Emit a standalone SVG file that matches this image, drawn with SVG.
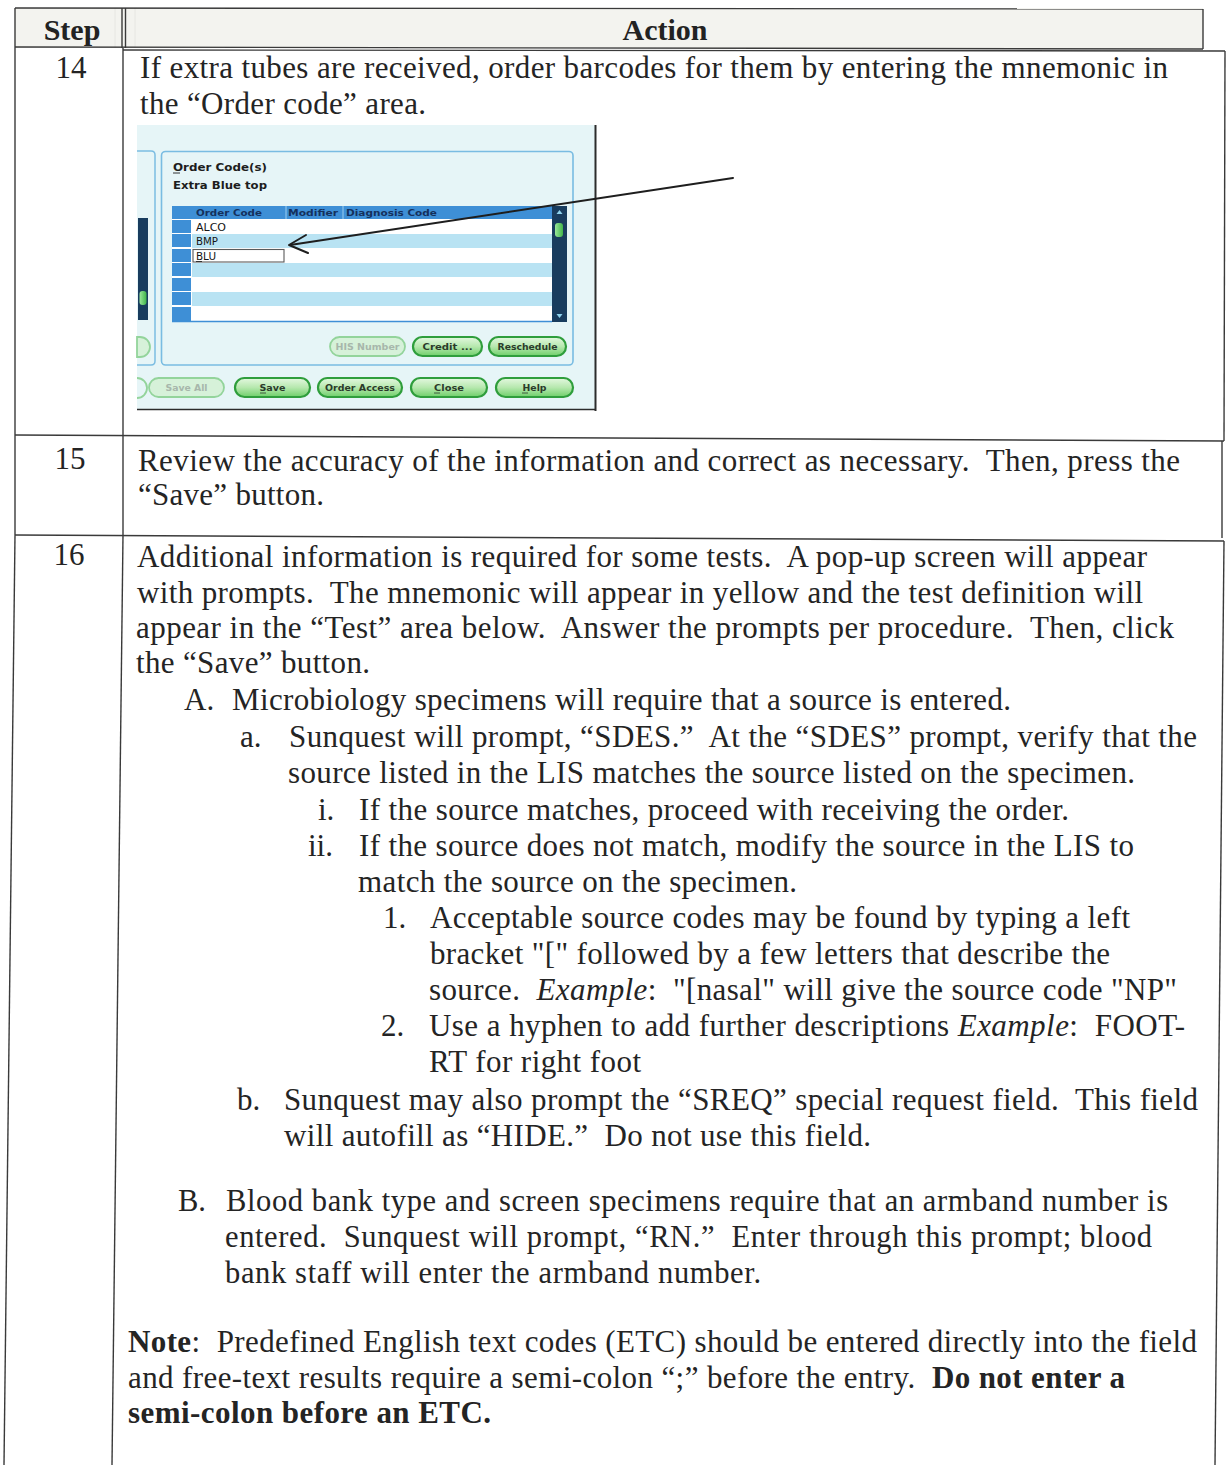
<svg xmlns="http://www.w3.org/2000/svg" width="1227" height="1465" viewBox="0 0 1227 1465">
  <style>
    text { white-space: pre; }
    .rule { stroke: #3a3a3a; stroke-width: 1.4; fill: none; }
    .ghost { stroke: #e6e6e2; stroke-width: 1; }
    .body { font-family: "Liberation Serif", "Times New Roman", serif; font-size: 31px; fill: #242424; }
    .bsmall { font-family: "Liberation Serif", "Times New Roman", serif; font-size: 30.5px; fill: #242424; }
    .head { font-family: "Liberation Serif", "Times New Roman", serif; font-size: 30px; font-weight: bold; fill: #222; }
    .b { font-weight: bold; }
    .i { font-style: italic; }
    .ui { font-family: "DejaVu Sans", Verdana, sans-serif; }
    .ttl { font-size: 11px; font-weight: bold; fill: #1d1d1d; }
    .colh { font-size: 9.5px; font-weight: bold; fill: #14305c; }
    .cell { font-size: 10px; fill: #151515; }
    .btn { fill: url(#btnFill); stroke: #2f9e3c; stroke-width: 2.2; }
    .btnoff { fill: #d6f1d9; stroke: #93d49b; stroke-width: 1.8; }
    .btxt { font-size: 9.5px; font-weight: bold; fill: #2b3b2b; text-anchor: middle; }
    .btxtoff { font-size: 9.5px; font-weight: bold; fill: #a7b7ab; text-anchor: middle; }
    .sel { fill: #3e8fd6; }
    .lite { fill: #b9e3f3; }
  </style>
  <defs>
    <linearGradient id="btnFill" x1="0" y1="0" x2="0" y2="1">
      <stop offset="0" stop-color="#e4f8e0"/>
      <stop offset="0.5" stop-color="#b6e8ae"/>
      <stop offset="1" stop-color="#6fcf6a"/>
    </linearGradient>
    <linearGradient id="thumb" x1="0" y1="0" x2="1" y2="0">
      <stop offset="0" stop-color="#9be89a"/>
      <stop offset="1" stop-color="#3fb44a"/>
    </linearGradient>
  </defs>

  <rect x="0" y="0" width="1227" height="1465" fill="#ffffff"/>

  <!-- header row -->
  <g id="header">
    <rect x="15" y="8" width="1188" height="40" fill="#f3f3ef"/>
    <line class="ghost" x1="115" y1="8" x2="115" y2="48"/>
    <line class="ghost" x1="135" y1="8" x2="135" y2="48"/>
    <text class="head" x="72" y="40" text-anchor="middle">Step</text>
    <text class="head" x="665" y="40" text-anchor="middle">Action</text>
  </g>

  <!-- table rules (the scan is slightly skewed, so rules carry their own slope) -->
  <g id="table-lines" class="rule">
    <!-- header box -->
    <line x1="15" y1="8" x2="1203" y2="9"/>
    <line x1="1203" y1="9" x2="1203" y2="49"/>
    <line x1="15" y1="47" x2="1203" y2="49"/>
    <line x1="122" y1="8" x2="122" y2="48"/>
    <line x1="125.5" y1="8" x2="125.5" y2="48"/>
    <!-- rows 14 and 15 -->
    <line x1="123" y1="50" x2="1225" y2="51"/>
    <line x1="1225" y1="51" x2="1224" y2="441"/>
    <line x1="15" y1="8" x2="15" y2="535"/>
    <line x1="123" y1="48" x2="123" y2="535"/>
    <line x1="15" y1="435" x2="1224" y2="441"/>
    <line x1="1222" y1="441" x2="1222" y2="538"/>
    <line x1="15" y1="535" x2="1224" y2="541"/>
    <!-- row 16 -->
    <line x1="15" y1="535" x2="4" y2="1465"/>
    <line x1="123" y1="535" x2="112" y2="1465"/>
    <line x1="1224" y1="541" x2="1215" y2="1465"/>
  </g>

  <!-- step 14 -->
  <g id="row-14">
    <text class="body" x="71" y="78" text-anchor="middle">14</text>
    <text class="body" x="140" y="78" textLength="1028" lengthAdjust="spacing">If extra tubes are received, order barcodes for them by entering the mnemonic in</text>
    <text class="body" x="140" y="114" textLength="286" lengthAdjust="spacing">the “Order code” area.</text>
  </g>

  <!-- order entry screen capture -->
  <g id="screenshot">
    <rect x="137" y="125" width="458" height="284" fill="#e6f5f7"/>
    <!-- left neighbouring panel, partly cut off -->
    <path d="M137 151 H151 Q155 151 155 155 V361 Q155 365 151 365 H137" fill="none" stroke="#7cbde2" stroke-width="1.5"/>
    <rect x="138" y="218" width="10" height="102" fill="#183c5e"/>
    <rect x="139.5" y="291" width="7" height="14" rx="3" fill="url(#thumb)"/>
    <path d="M137 337 H140 A10 10 0 0 1 140 357 H137 Z" class="btnoff"/>
    <path d="M137 378 A10 10 0 0 1 137 398" fill="none" stroke="#93d49b" stroke-width="1.8"/>
    <!-- main panel -->
    <rect x="161.5" y="151.5" width="411.5" height="213.5" rx="4" fill="none" stroke="#79bce2" stroke-width="1.6"/>
    <text class="ui ttl" x="173" y="171" textLength="94" lengthAdjust="spacingAndGlyphs">Order Code(s)</text>
    <line x1="173" y1="173" x2="180" y2="173" stroke="#1d1d1d" stroke-width="0.9"/>
    <text class="ui ttl" x="173" y="189" textLength="94" lengthAdjust="spacingAndGlyphs">Extra Blue top</text>
    <!-- grid -->
    <rect x="172" y="206" width="380" height="116" fill="#ffffff"/>
    <rect x="172" y="206" width="380" height="13" fill="#3e8fd6"/>
    <line x1="286" y1="206" x2="286" y2="219" stroke="#8cc4ec" stroke-width="1.2"/>
    <line x1="343" y1="206" x2="343" y2="219" stroke="#8cc4ec" stroke-width="1.2"/>
    <rect class="lite" x="192" y="234" width="360" height="14"/>
    <rect class="lite" x="192" y="263" width="360" height="14"/>
    <rect class="lite" x="192" y="292" width="360" height="14"/>
    <rect class="sel" x="172" y="206" width="19" height="13"/>
    <rect class="sel" x="172" y="220" width="19" height="13"/>
    <rect class="sel" x="172" y="234" width="19" height="13"/>
    <rect class="sel" x="172" y="249" width="19" height="13"/>
    <rect class="sel" x="172" y="263" width="19" height="13"/>
    <rect class="sel" x="172" y="278" width="19" height="13"/>
    <rect class="sel" x="172" y="292" width="19" height="13"/>
    <rect class="sel" x="172" y="307" width="19" height="14"/>
    <line x1="172" y1="321.5" x2="552" y2="321.5" stroke="#3e8fd6" stroke-width="1.5"/>
    <text class="ui colh" x="196" y="216" textLength="66" lengthAdjust="spacingAndGlyphs">Order Code</text>
    <text class="ui colh" x="288" y="216" textLength="50" lengthAdjust="spacingAndGlyphs">Modifier</text>
    <text class="ui colh" x="346" y="216" textLength="91" lengthAdjust="spacingAndGlyphs">Diagnosis Code</text>
    <text class="ui cell" x="196" y="231" textLength="30" lengthAdjust="spacingAndGlyphs">ALCO</text>
    <text class="ui cell" x="196" y="245" textLength="22" lengthAdjust="spacingAndGlyphs">BMP</text>
    <rect x="193" y="249.5" width="91" height="12.5" fill="#ffffff" stroke="#5a5a5a" stroke-width="1.1"/>
    <text class="ui cell" x="196" y="260" textLength="20" lengthAdjust="spacingAndGlyphs">BLU</text>
    <line x1="196" y1="261.5" x2="202" y2="261.5" stroke="#151515" stroke-width="0.8"/>
    <!-- grid scrollbar -->
    <rect x="552" y="206" width="15" height="116" fill="#183c5e"/>
    <path d="M556.5 214 L559.5 210 L562.5 214 Z" fill="#8fd3ee"/>
    <path d="M556.5 314 L559.5 318 L562.5 314 Z" fill="#8fd3ee"/>
    <rect x="555" y="223" width="8" height="14" rx="3" fill="url(#thumb)"/>
    <!-- panel buttons -->
    <rect class="btnoff" x="330" y="337" width="75" height="19" rx="9.5"/>
    <text class="ui btxtoff" x="367.5" y="350" textLength="64" lengthAdjust="spacingAndGlyphs">HIS Number</text>
    <rect class="btn" x="413" y="337" width="69" height="19" rx="9.5"/>
    <text class="ui btxt" x="447.5" y="350" textLength="50" lengthAdjust="spacingAndGlyphs">Credit ...</text>
    <rect class="btn" x="489" y="337" width="77" height="19" rx="9.5"/>
    <text class="ui btxt" x="527.5" y="350" textLength="60" lengthAdjust="spacingAndGlyphs">Reschedule</text>
    <!-- window buttons -->
    <rect class="btnoff" x="149" y="378" width="75" height="19" rx="9.5"/>
    <text class="ui btxtoff" x="186.5" y="391" textLength="42" lengthAdjust="spacingAndGlyphs">Save All</text>
    <rect class="btn" x="235" y="378" width="75" height="19" rx="9.5"/>
    <text class="ui btxt" x="272.5" y="391" textLength="26" lengthAdjust="spacingAndGlyphs">Save</text>
    <line x1="260" y1="393" x2="266" y2="393" stroke="#2b3b2b" stroke-width="0.8"/>
    <rect class="btn" x="318" y="378" width="84" height="19" rx="9.5"/>
    <text class="ui btxt" x="360" y="391" textLength="70" lengthAdjust="spacingAndGlyphs">Order Access</text>
    <rect class="btn" x="411" y="378" width="76" height="19" rx="9.5"/>
    <text class="ui btxt" x="449" y="391" textLength="30" lengthAdjust="spacingAndGlyphs">Close</text>
    <line x1="434" y1="393" x2="440" y2="393" stroke="#2b3b2b" stroke-width="0.8"/>
    <rect class="btn" x="496" y="378" width="77" height="19" rx="9.5"/>
    <text class="ui btxt" x="534.5" y="391" textLength="24" lengthAdjust="spacingAndGlyphs">Help</text>
    <line x1="522" y1="393" x2="528" y2="393" stroke="#2b3b2b" stroke-width="0.8"/>
    <!-- capture frame -->
    <line x1="595.5" y1="125" x2="595.5" y2="411" stroke="#2c2c2c" stroke-width="2"/>
    <line x1="137" y1="409.5" x2="596" y2="409.5" stroke="#2c2c2c" stroke-width="1.6"/>
  </g>

  <!-- call-out arrow -->
  <g id="connectors" stroke="#1e1e1e" stroke-width="2" fill="none" stroke-linecap="round" stroke-linejoin="round">
    <line x1="733" y1="178" x2="290" y2="245"/>
    <polyline points="306,235 289,245 308,253"/>
  </g>

  <!-- step 15 -->
  <g id="row-15">
    <text class="body" x="70" y="469" text-anchor="middle">15</text>
    <text class="body" x="138" y="471" textLength="1042" lengthAdjust="spacing">Review the accuracy of the information and correct as necessary.  Then, press the</text>
    <text class="body" x="138" y="505" textLength="186" lengthAdjust="spacing">“Save” button.</text>
  </g>

  <!-- step 16 -->
  <g id="row-16">
    <text class="body" x="69" y="565" text-anchor="middle">16</text>
    <text class="body" x="137" y="567" textLength="1010" lengthAdjust="spacing">Additional information is required for some tests.  A pop-up screen will appear</text>
    <text class="body" x="137" y="603" textLength="1006" lengthAdjust="spacing">with prompts.  The mnemonic will appear in yellow and the test definition will</text>
    <text class="body" x="136" y="638" textLength="1038" lengthAdjust="spacing">appear in the “Test” area below.  Answer the prompts per procedure.  Then, click</text>
    <text class="body" x="136" y="673" textLength="234" lengthAdjust="spacing">the “Save” button.</text>

    <text class="body" x="184" y="710">A.</text>
    <text class="body" x="232" y="710" textLength="779" lengthAdjust="spacing">Microbiology specimens will require that a source is entered.</text>

    <text class="body" x="240" y="747">a.</text>
    <text class="body" x="289" y="747" textLength="908" lengthAdjust="spacing">Sunquest will prompt, “SDES.”  At the “SDES” prompt, verify that the</text>
    <text class="body" x="288" y="783" textLength="847" lengthAdjust="spacing">source listed in the LIS matches the source listed on the specimen.</text>

    <text class="body" x="318" y="820">i.</text>
    <text class="body" x="359" y="820" textLength="710" lengthAdjust="spacing">If the source matches, proceed with receiving the order.</text>
    <text class="body" x="308" y="856">ii.</text>
    <text class="body" x="359" y="856" textLength="775" lengthAdjust="spacing">If the source does not match, modify the source in the LIS to</text>
    <text class="body" x="358" y="892" textLength="439" lengthAdjust="spacing">match the source on the specimen.</text>

    <text class="body" x="383" y="928">1.</text>
    <text class="body" x="430" y="928" textLength="700" lengthAdjust="spacing">Acceptable source codes may be found by typing a left</text>
    <text class="body" x="430" y="964" textLength="680" lengthAdjust="spacing">bracket "[" followed by a few letters that describe the</text>
    <text class="body" x="429" y="1000" textLength="748" lengthAdjust="spacing">source.  <tspan class="i">Example</tspan>:  "[nasal" will give the source code "NP"</text>
    <text class="body" x="381" y="1036">2.</text>
    <text class="body" x="429" y="1036" textLength="756" lengthAdjust="spacing">Use a hyphen to add further descriptions <tspan class="i">Example</tspan>:  FOOT-</text>
    <text class="body" x="429" y="1072" textLength="212" lengthAdjust="spacing">RT for right foot</text>

    <text class="body" x="237" y="1110">b.</text>
    <text class="body" x="284" y="1110" textLength="914" lengthAdjust="spacing">Sunquest may also prompt the “SREQ” special request field.  This field</text>
    <text class="body" x="284" y="1146" textLength="587" lengthAdjust="spacing">will autofill as “HIDE.”  Do not use this field.</text>

    <text class="bsmall" x="178" y="1211">B.</text>
    <text class="bsmall" x="226" y="1211" textLength="942" lengthAdjust="spacing">Blood bank type and screen specimens require that an armband number is</text>
    <text class="bsmall" x="225" y="1247" textLength="927" lengthAdjust="spacing">entered.  Sunquest will prompt, “RN.”  Enter through this prompt; blood</text>
    <text class="bsmall" x="225" y="1283" textLength="536" lengthAdjust="spacing">bank staff will enter the armband number.</text>

    <text class="body" x="128" y="1352" textLength="1069" lengthAdjust="spacing"><tspan class="b">Note</tspan>:  Predefined English text codes (ETC) should be entered directly into the field</text>
    <text class="body" x="128" y="1388" textLength="997" lengthAdjust="spacing">and free-text results require a semi-colon “;” before the entry.  <tspan class="b">Do not enter a</tspan></text>
    <text class="body b" x="128" y="1423" textLength="363" lengthAdjust="spacing">semi-colon before an ETC.</text>
  </g>
</svg>
